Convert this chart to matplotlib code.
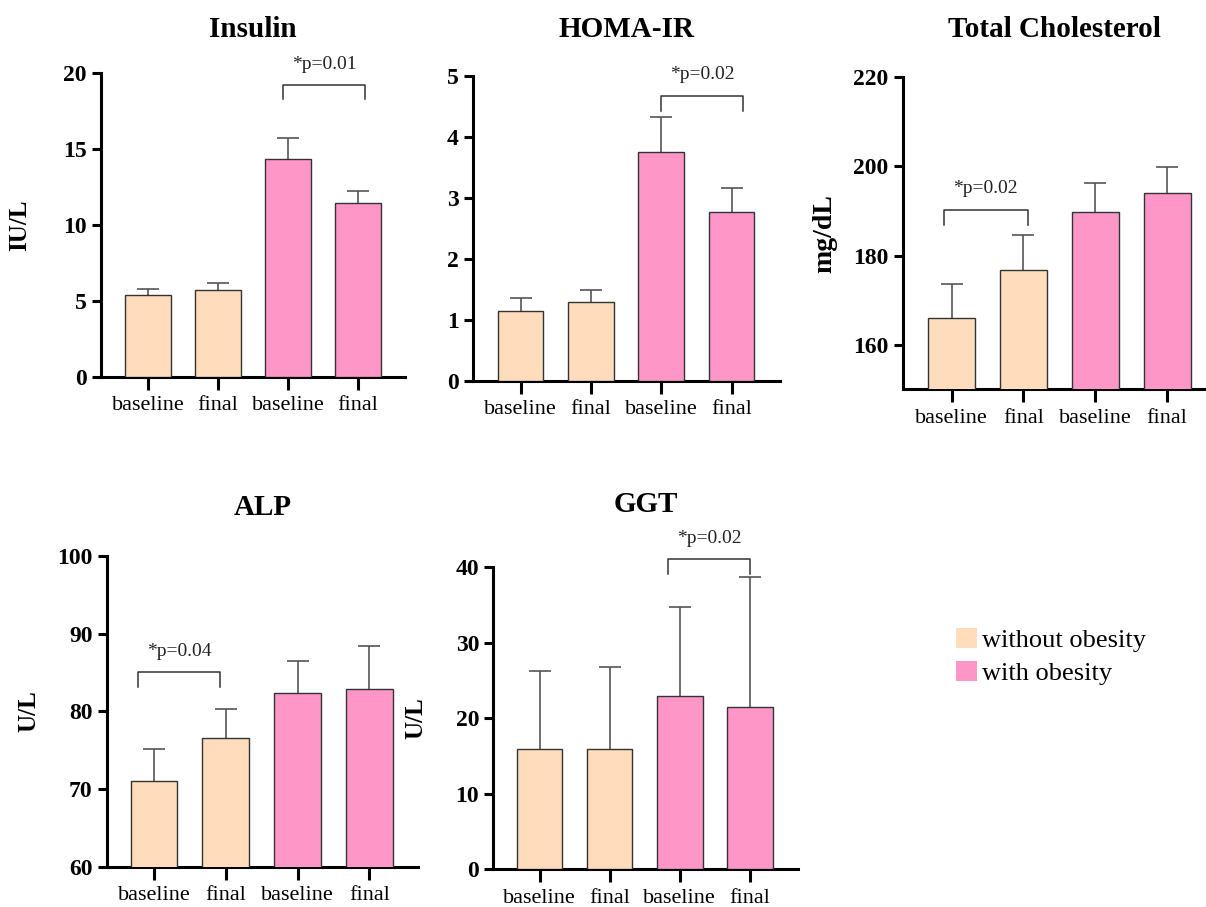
import matplotlib
matplotlib.use('Agg')
import matplotlib.pyplot as plt
from matplotlib.patches import Patch

plt.rcParams['font.family'] = ['Liberation Serif', 'DejaVu Serif']

# データ
labels = ['baseline', 'final', 'baseline', 'final']
group_names = ['without obesity', 'with obesity']
group_colors = ['#FFDDBC', '#FF96C8']
bar_groups = [0, 0, 1, 1]

insulin_mean = [5.4, 5.7, 14.35, 11.45]
insulin_sd = [0.4, 0.47, 1.4, 0.82]

homa_mean = [1.14, 1.29, 3.75, 2.77]
homa_sd = [0.21, 0.19, 0.57, 0.40]

tc_mean = [166.1, 176.8, 189.8, 194.1]
tc_sd = [7.5, 7.9, 6.4, 5.7]

alp_mean = [71.0, 76.6, 82.4, 82.9]
alp_sd = [4.1, 3.7, 4.1, 5.5]

ggt_mean = [15.9, 15.9, 22.9, 21.5]
ggt_sd = [10.4, 10.9, 11.8, 17.2]

FIG_W, FIG_H = 1206, 907


def draw_panel(fig, rect, xlim, ylim, yticks, means, sds, title, title_gap,
               ylabel, ylabel_size, ylabel_gap, bracket):
    ax = fig.add_axes(rect)
    x = list(range(len(means)))
    colors = [group_colors[g] for g in bar_groups]

    ax.bar(x, means, width=0.65, color=colors, edgecolor='#333333',
           linewidth=1.0, zorder=3)
    # 上側のみのエラーバー
    _, caps, _ = ax.errorbar(x, means, yerr=[[0] * len(sds), sds], fmt='none',
                             ecolor='#555555', elinewidth=1.2, capsize=8,
                             capthick=1.2, zorder=2)
    if len(caps) == 2:
        caps[0].set_visible(False)

    ax.set_xlim(*xlim)
    ax.set_ylim(*ylim)
    ax.set_yticks(yticks)
    ax.set_xticks(x)
    ax.set_xticklabels(labels, fontsize=16)
    for lab in ax.get_yticklabels():
        lab.set_fontweight('bold')
        lab.set_fontsize(17)

    for side in ['top', 'right']:
        ax.spines[side].set_visible(False)
    for side in ['left', 'bottom']:
        ax.spines[side].set_linewidth(2.2)
    ax.tick_params(axis='x', length=9.4, width=2.2, pad=4.5)
    ax.tick_params(axis='y', length=6.5, width=2.2, pad=3.6)

    ax_w = rect[2] * FIG_W
    ax_h = rect[3] * FIG_H

    # タイトル
    ax.text(0.5, 1 + title_gap / ax_h, title, transform=ax.transAxes,
            ha='center', va='center', fontsize=21, fontweight='bold')

    # 縦軸ラベル
    if ylabel:
        ax.set_ylabel(ylabel, fontsize=ylabel_size, fontweight='bold')
        ax.yaxis.set_label_coords(-ylabel_gap / ax_w, 0.5)

    # 有意差ブラケット
    x0, x1, y_top, y_drop, text = bracket
    ax.plot([x0, x0, x1, x1], [y_drop, y_top, y_top, y_drop],
            color='#333333', linewidth=1.1, clip_on=False, zorder=4)
    ax.annotate(text, xy=((x0 + x1) / 2, y_top), xytext=(0, 15),
                textcoords='offset points', ha='center', va='center',
                fontsize=14, color='#222222', annotation_clip=False)
    return ax


def main():
    fig = plt.figure(figsize=(FIG_W / 100, FIG_H / 100), dpi=100)

    draw_panel(fig, [0.0837, 0.5843, 0.2521, 0.3352], (-0.67, 3.67), (0, 20),
               [0, 5, 10, 15, 20], insulin_mean, insulin_sd, 'Insulin', 44,
               'IU/L', 18, 70, (1.93, 3.1, 19.2, 18.26, '*p=0.01'))

    draw_panel(fig, [0.392, 0.5803, 0.2548, 0.3359], (-0.68, 3.69), (0, 5),
               [0, 1, 2, 3, 4, 5], homa_mean, homa_sd, 'HOMA-IR', 47,
               None, 18, 66, (2.0, 3.16, 4.68, 4.43, '*p=0.02'))

    draw_panel(fig, [0.7485, 0.5708, 0.2515, 0.344], (-0.68, 3.54), (150, 220),
               [160, 180, 200, 220], tc_mean, tc_sd, 'Total Cholesterol', 48,
               'mg/dL', 20, 65, (-0.11, 1.06, 190.3, 186.9, '*p=0.02'))

    draw_panel(fig, [0.0885, 0.0444, 0.2581, 0.3426], (-0.66, 3.68), (60, 100),
               [60, 70, 80, 90, 100], alp_mean, alp_sd, 'ALP', 48,
               'U/L', 18, 66, (-0.23, 0.92, 85.06, 83.1, '*p=0.04'))

    draw_panel(fig, [0.409, 0.0416, 0.253, 0.3329], (-0.66, 3.69), (0, 40),
               [0, 10, 20, 30, 40], ggt_mean, ggt_sd, 'GGT', 63,
               'U/L', 18, 66, (1.83, 3.0, 41.1, 39.1, '*p=0.02'))

    # 凡例
    handles = [Patch(facecolor=c, edgecolor='none') for c in group_colors]
    fig.legend(handles, group_names, loc='upper left',
               bbox_to_anchor=(956 / FIG_W, 1 - 628 / FIG_H),
               frameon=False, borderpad=0, borderaxespad=0,
               handlelength=0.8, handleheight=0.8, handletextpad=0.2,
               labelspacing=0.32, fontsize=19)

    fig.savefig('out.png', dpi=100)


if __name__ == '__main__':
    main()
